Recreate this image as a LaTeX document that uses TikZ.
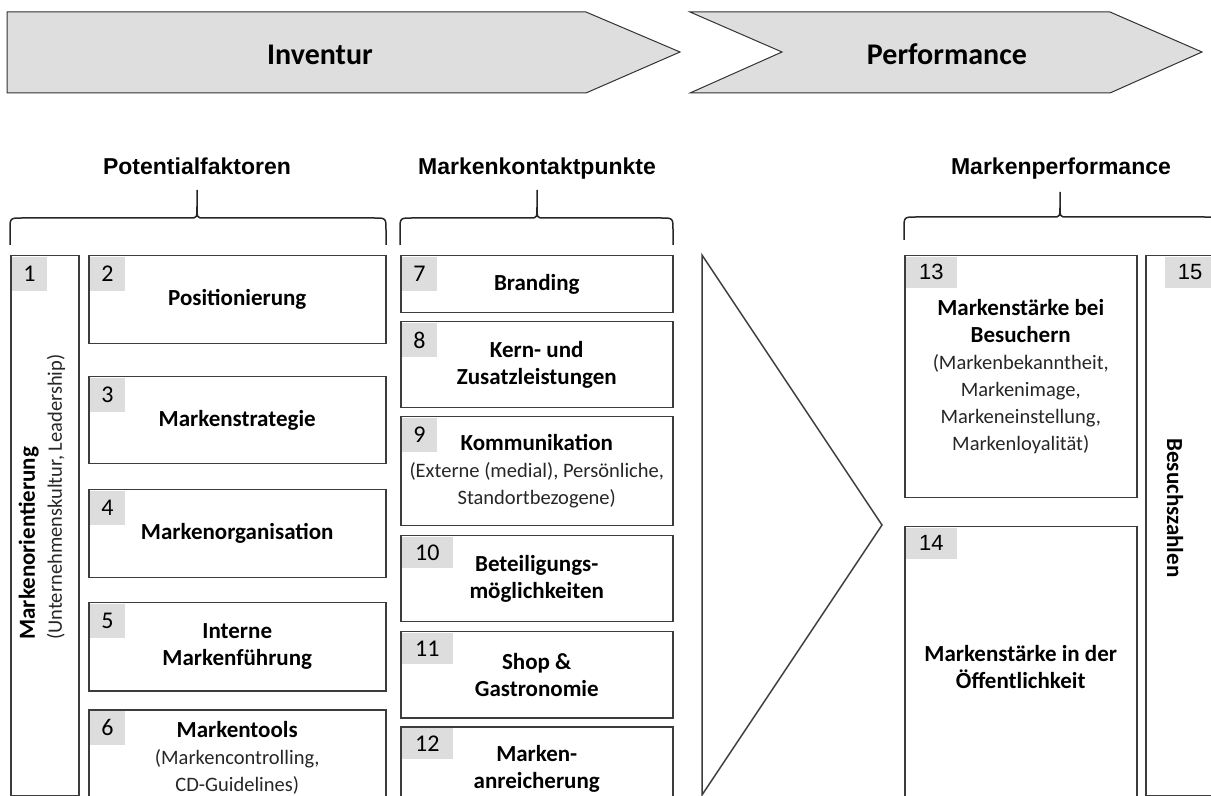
\documentclass[tikz,border=0pt]{standalone}
\usepackage{fontspec}
\setmainfont{Carlito}
\newfontfamily\arialfont{Liberation Sans}
\usepackage{xcolor}
\definecolor{TagGray}{HTML}{DDDDDD}
\definecolor{StageGray}{HTML}{DEDEDE}
\definecolor{FrameDark}{HTML}{3C3C3C}
\usetikzlibrary{positioning}
\newcommand{\subtxt}{\fontsize{10.25}{12}\selectfont\mdseries\color{black!85}}
\newcommand{\arialnr}{\arialfont\fontsize{11}{12}\selectfont}

\begin{document}
\begin{tikzpicture}[
        x=0.5pt, y=-0.5pt,
        stage/.style={draw=black!80, fill=StageGray, line width=0.5pt},
        stagetext/.style={anchor=base, font=\fontsize{15}{18}\selectfont\bfseries},
        head/.style={anchor=base, font=\arialfont\fontsize{11.5}{13.5}\selectfont\bfseries},
        brace/.style={draw=black!85, line width=0.75pt},
        box/.style={draw=FrameDark, line width=0.75pt, anchor=north west, align=center, inner sep=2pt, font=\fontsize{11.5}{13.5}\selectfont\bfseries},
        sidetext/.style={inner sep=0pt, font=\fontsize{11.5}{13.5}\selectfont\bfseries},
        tag/.style={fill=TagGray, anchor=north west, inner sep=0pt, minimum width=17.5pt, minimum height=17pt, font=\fontsize{12}{14}\selectfont},
        widetag/.style={tag, minimum width=25.5pt, minimum height=15.5pt}
    ]
        \useasboundingbox (0,0) rectangle (1211,796);
        \clip (0,0) rectangle (1211,796);

        % Phases
        \draw[stage] (7,12) -- (586,12) -- (680,52) -- (586,93) -- (7,93) -- cycle;
        \draw[stage] (690,12) -- (1110,12) -- (1202,52) -- (1110,93) -- (690,93) -- (782,52) -- cycle;
        \node[stagetext] (inventur) at (320,65) {Inventur};
        \node[stagetext] (performance) at (947,65) {Performance};

        % Headings and braces
        \node[head] (potential) at (197,175) {Potentialfaktoren};
        \node[head] (contact) at (537,175) {Markenkontaktpunkte};
        \node[head] (brandperf) at (1061,175) {Markenperformance};
        \draw[brace] (10,245) -- (10,230) .. controls (10,218) .. (22,218) -- (190,218) .. controls (197,218) .. (197,206) -- (197,190) -- (197,206) .. controls (197,218) .. (204,218) -- (374,218) .. controls (386,218) .. (386,230) -- (386,245);
        \draw[brace] (400,245) -- (400,230) .. controls (400,218) .. (412,218) -- (530,218) .. controls (537,218) .. (537,206) -- (537,190) -- (537,206) .. controls (537,218) .. (544,218) -- (661,218) .. controls (673,218) .. (673,230) -- (673,245);
        \draw[brace] (904,240) -- (904,229) .. controls (904,217) .. (916,217) -- (1053,217) .. controls (1060,217) .. (1060,205) -- (1060,192) -- (1060,205) .. controls (1060,217) .. (1067,217) -- (1204,217) .. controls (1216,217) .. (1216,229) -- (1216,240);

        % Potential factors
        \node[box, minimum width=34pt, minimum height=270pt] (orient) at (10,255) {};
        \node[tag] (orient-nr) at ([shift={(0.75pt,-0.75pt)}]orient.north west) {1};
        \node[sidetext, rotate=90, anchor=west, align=left] (orient-txt) at (42,640) {Markenorientierung\\{\subtxt (Unternehmenskultur, Leadership)}};

        \node[box, minimum width=148.5pt, minimum height=44pt] (position) at (88,255) {Positionierung};
        \node[tag] (position-nr) at ([shift={(0.75pt,-0.75pt)}]position.north west) {2};
        \node[box, minimum width=148.5pt, minimum height=43.5pt] (strategy) at (88,376) {Markenstrategie};
        \node[tag] (strategy-nr) at ([shift={(0.75pt,-0.75pt)}]strategy.north west) {3};
        \node[box, minimum width=148.5pt, minimum height=44pt] (organisation) at (88,489) {Markenorganisation};
        \node[tag] (organisation-nr) at ([shift={(0.75pt,-0.75pt)}]organisation.north west) {4};
        \node[box, minimum width=148.5pt, minimum height=44pt] (internal) at (88,602) {Interne\\Markenführung};
        \node[tag] (internal-nr) at ([shift={(0.75pt,-0.75pt)}]internal.north west) {5};
        \node[box, minimum width=148.5pt, minimum height=48.5pt] (tools) at (88,709) {Markentools\\{\subtxt (Markencontrolling,}\\{\subtxt CD-Guidelines)}};
        \node[tag] (tools-nr) at ([shift={(0.75pt,-0.75pt)}]tools.north west) {6};

        % Contact points
        \node[box, minimum width=136pt, minimum height=28.5pt] (branding) at (400,255) {Branding};
        \node[tag] (branding-nr) at ([shift={(0.75pt,-0.75pt)}]branding.north west) {7};
        \node[box, minimum width=136pt, minimum height=43pt] (core) at (400,321) {Kern- und\\Zusatzleistungen};
        \node[tag] (core-nr) at ([shift={(0.75pt,-0.75pt)}]core.north west) {8};
        \node[box, minimum width=136pt, minimum height=54.5pt] (comm) at (400,416) {Kommunikation\\{\subtxt (Externe (medial), Persönliche,}\\{\subtxt Standortbezogene)}};
        \node[tag] (comm-nr) at ([shift={(0.75pt,-0.75pt)}]comm.north west) {9};
        \node[box, minimum width=136pt, minimum height=43pt] (participation) at (400,535) {Beteiligungs-\\möglichkeiten};
        \node[widetag] (participation-nr) at ([shift={(0.75pt,-0.75pt)}]participation.north west) {10};
        \node[box, minimum width=136pt, minimum height=43pt] (shop) at (400,631) {Shop \&\\Gastronomie};
        \node[widetag] (shop-nr) at ([shift={(0.75pt,-0.75pt)}]shop.north west) {11};
        \node[box, minimum width=136pt, minimum height=42pt] (enrichment) at (400,726) {Marken-\\anreicherung};
        \node[widetag] (enrichment-nr) at ([shift={(0.75pt,-0.75pt)}]enrichment.north west) {12};

        % Transition
        \draw[draw=FrameDark, line width=0.75pt] (702,255) -- (882,525) -- (702,795) -- cycle;

        % Brand performance
        \node[box, minimum width=116pt, minimum height=121pt] (visitors) at (904,255) {Markenstärke bei\\Besuchern\\{\subtxt (Markenbekanntheit,}\\{\subtxt Markenimage,}\\{\subtxt Markeneinstellung,}\\{\subtxt Markenloyalität)}};
        \node[widetag] (visitors-nr) at ([shift={(0.75pt,-0.75pt)}]visitors.north west) {\arialnr 13};
        \node[box, minimum width=116pt, minimum height=140pt] (public) at (904,526) {Markenstärke in der\\Öffentlichkeit};
        \node[widetag] (public-nr) at ([shift={(0.75pt,-0.75pt)}]public.north west) {\arialnr 14};
        \node[box, minimum width=35.5pt, minimum height=270pt] (visits) at (1145,255) {};
        \node[widetag, anchor=north east] (visits-nr) at ([shift={(-0.75pt,-0.75pt)}]visits.north east) {\arialnr 15};
        \node[sidetext, rotate=-90] (visits-txt) at (1175,508) {Besuchszahlen};
    \end{tikzpicture}
\end{document}
